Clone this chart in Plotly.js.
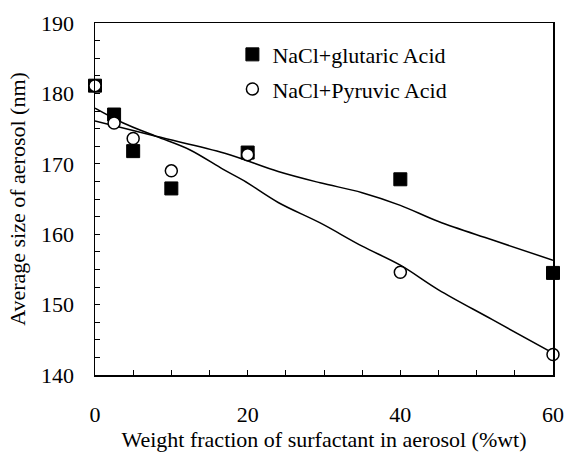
<!DOCTYPE html>
<html>
<head>
<meta charset="utf-8">
<script src="https://cdn.plot.ly/plotly-3.0.1.min.js"></script>
<style>html,body{margin:0;padding:0;background:#fff;}#chart{width:567px;height:453px;}</style>
</head>
<body>
<div id="chart"></div>
<script>
// Measured points
const weightFraction = [0, 2.5, 5, 10, 20, 40, 60];
const glutaricSize = [181.1, 177.0, 171.8, 166.5, 171.6, 167.8, 154.5];
const pyruvicSize = [181.1, 175.8, 173.6, 169.0, 171.3, 154.6, 142.9];

// Fitted trend curves
const glutaricFitX = [0, 8, 17, 24, 29.5, 35, 40, 45, 52, 60];
const glutaricFitY = [176.1, 173.9, 171.5, 168.9, 167.3, 165.9, 164.1, 161.8, 159.2, 156.3];
const pyruvicFitX = [0, 3.7, 8, 12.4, 16.8, 19.5, 24, 29.5, 35, 40, 45, 52, 60];
const pyruvicFitY = [177.9, 175.8, 173.9, 172.0, 169.2, 167.6, 164.5, 161.6, 158.3, 155.6, 152.1, 147.9, 143.1];

const xTickVals = [0, 20, 40, 60];
const yTickVals = [140, 150, 160, 170, 180, 190];

const fontFam = '"Liberation Serif", "Times New Roman", serif';

const traces = [
  {x: glutaricFitX, y: glutaricFitY, mode: 'lines', line: {color: '#000', width: 1.5, shape: 'spline'}, showlegend: false, hoverinfo: 'skip'},
  {x: pyruvicFitX, y: pyruvicFitY, mode: 'lines', line: {color: '#000', width: 1.5, shape: 'spline'}, showlegend: false, hoverinfo: 'skip'},
  {x: weightFraction, y: glutaricSize, mode: 'markers', name: 'NaCl+glutaric Acid', legendgroup: 'g1', cliponaxis: false,
   marker: {symbol: 'square', size: 13, color: '#000', line: {color: '#000', width: 1}}},
  {x: weightFraction, y: pyruvicSize, mode: 'markers', name: 'NaCl+Pyruvic Acid', legendgroup: 'g2', cliponaxis: false,
   marker: {symbol: 'circle', size: 12, color: '#fff', line: {color: '#000', width: 1.5}}}
];

const layout = {
  width: 567, height: 453,
  margin: {l: 95, r: 14, t: 23, b: 78},
  paper_bgcolor: '#fff', plot_bgcolor: '#fff',
  font: {family: fontFam, size: 22, color: '#000'},
  showlegend: true,
  legend: {x: 0.30, y: 0.97, xanchor: 'left', yanchor: 'top', bgcolor: 'rgba(0,0,0,0)', font: {family: fontFam, size: 22, color: '#000'}, tracegroupgap: 3},
  xaxis: {
    range: [0, 60], tickvals: xTickVals, ticks: 'inside', ticklen: 5, tickwidth: 1, tickcolor: '#000',
    showline: true, linecolor: '#000', linewidth: 1.5, mirror: true, showgrid: false, zeroline: false,
    ticklabelstandoff: 19,
    minor: {dtick: 5, ticks: 'inside', ticklen: 5, tickwidth: 1, tickcolor: '#000', showgrid: false},
    title: {text: 'Weight fraction of surfactant in aerosol (%wt)', font: {family: fontFam, size: 22}, standoff: 4}
  },
  yaxis: {
    range: [140, 190], tickvals: yTickVals, ticks: 'inside', ticklen: 5, tickwidth: 1, tickcolor: '#000',
    showline: true, linecolor: '#000', linewidth: 1.5, mirror: true, showgrid: false, zeroline: false,
    ticklabelstandoff: 15,
    minor: {dtick: 2.5, ticks: 'inside', ticklen: 5, tickwidth: 1, tickcolor: '#000', showgrid: false},
    title: {text: 'Average size of aerosol (nm)', font: {family: fontFam, size: 22}, standoff: 9}
  }
};

Plotly.newPlot('chart', traces, layout, {displayModeBar: false, staticPlot: true});
</script>
</body>
</html>
